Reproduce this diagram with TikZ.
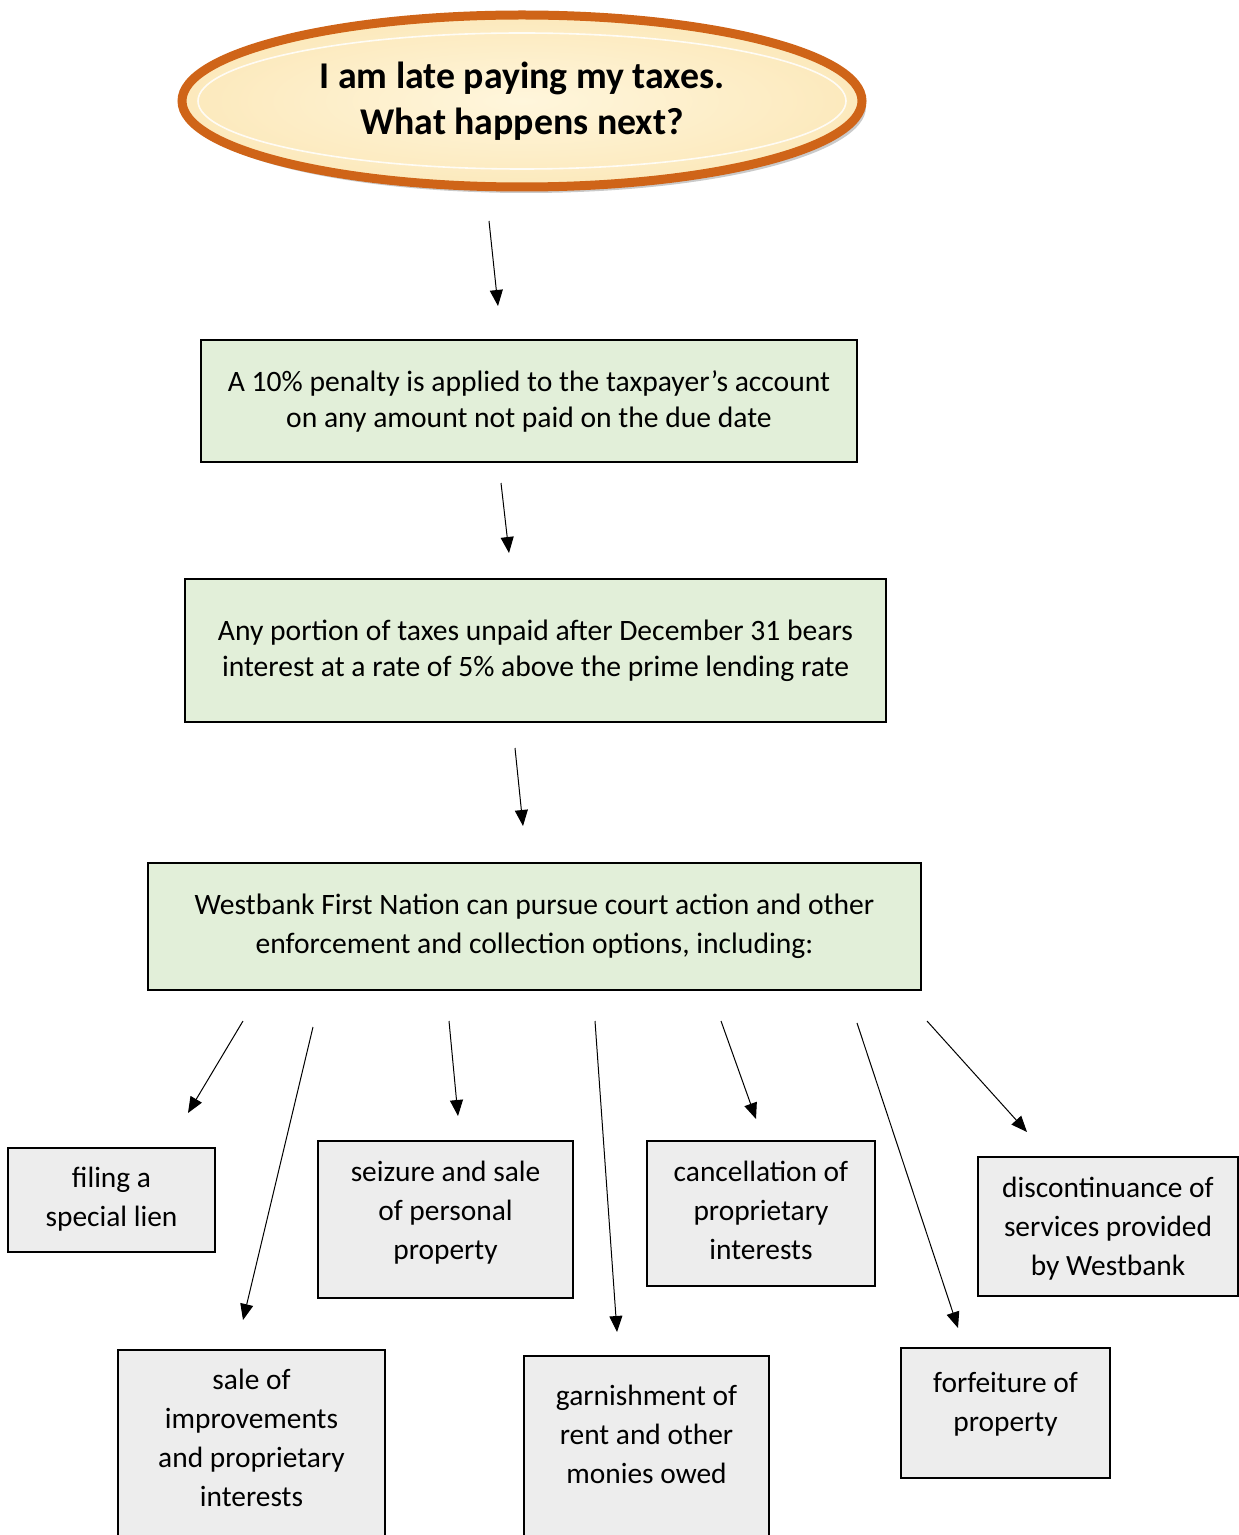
\documentclass[tikz,border=0pt]{standalone}
\usepackage{fontspec}
\setmainfont{Carlito}
\usetikzlibrary{shapes.geometric, arrows.meta, shadows, positioning}
\definecolor{boxgreen}{HTML}{E2EFD9}
\definecolor{boxgray}{HTML}{EDEDED}
\definecolor{ringorange}{HTML}{CF6418}
\definecolor{creamin}{HTML}{FFF6DC}
\definecolor{creamout}{HTML}{FCE9BC}
% box text: height, width, first baseline, lines
\newcommand{\boxtext}[4]{\parbox[c][#1][t]{#2}{\centering\rule{0pt}{#3}#4}}

\begin{document}
\begin{tikzpicture}
[
			x=0.5pt, y=-0.5pt,
			oval/.style = {ellipse, draw=ringorange, line width=4.5pt, inner color=creamin, outer color=creamout,
				minimum width=340pt, minimum height=86pt, align=center,
				font=\fontsize{18.9}{23}\selectfont\bfseries,
				drop shadow={shadow xshift=2pt, shadow yshift=-3pt, opacity=0.35, fill=black!60}},
			greenbox/.style = {draw, line width=1pt, fill=boxgreen, align=center, inner sep=0pt,
				font=\fontsize{14.8}{18}\selectfont},
			graybox/.style = {draw, line width=1pt, fill=boxgray, inner sep=0pt,
				font=\fontsize{14.7}{19.5}\selectfont},
			arr/.style = {-{Triangle[length=8pt, width=6.5pt]}, line width=0.5pt}
		]
\useasboundingbox (0,0) rectangle (1238,1535);

% question
\node[oval] (late) at (522,101) {I am late paying my taxes.\\What happens next?};
\draw[white, line width=0.8pt, opacity=0.85] (late.center) ellipse [x radius=162pt, y radius=34pt];

% steps
\node[greenbox, minimum width=328pt, minimum height=61pt] (penalty) at (529,401)
	{A 10\% penalty is applied to the taxpayer’s account\\on any amount not paid on the due date};
\node[greenbox, minimum width=350.5pt, minimum height=71.5pt] (interest) at (535.5,650.5)
	{Any portion of taxes unpaid after December 31 bears\\interest at a rate of 5\% above the prime lending rate};
\node[greenbox, minimum width=386.5pt, minimum height=63.5pt, font=\fontsize{14.8}{19.5}\selectfont] (court) at (534.5,926.5)
	{Westbank First Nation can pursue court action and other\\enforcement and collection options, including:};

% options
\node[graybox] (lien) at (111.5,1200) {\boxtext{52pt}{103.5pt}{19.5pt}{filing a\\special lien}};
\node[graybox] (seizure) at (445.5,1219.5) {\boxtext{78.5pt}{127.5pt}{20pt}{seizure and sale\\of personal\\property}};
\node[graybox] (cancel) at (761,1213.5) {\boxtext{72.5pt}{114pt}{20pt}{cancellation of\\proprietary\\interests}};
\node[graybox] (discont) at (1108,1226.5) {\boxtext{69.5pt}{130pt}{20pt}{discontinuance of\\services provided\\by Westbank}};
\node[graybox] (improve) at (251.5,1447.5) {\boxtext{97.5pt}{133.5pt}{19.5pt}{sale of\\improvements\\and proprietary\\interests}};
\node[graybox] (garnish) at (646.5,1450.5) {\boxtext{94.5pt}{122.5pt}{24.5pt}{garnishment of\\rent and other\\monies owed}};
\node[graybox] (forfeit) at (1005.5,1413) {\boxtext{65pt}{104.5pt}{22pt}{forfeiture of\\property}};

% arrow ends
\coordinate (late-out) at (489,221);     \coordinate (penalty-in) at (498,306);
\coordinate (penalty-out) at (501,483);  \coordinate (interest-in) at (509,553);
\coordinate (interest-out) at (515,748); \coordinate (court-in) at (523,826);
\coordinate (c1) at (243,1021); \coordinate (lien-in) at (188,1113);
\coordinate (c2) at (313,1027); \coordinate (improve-in) at (243,1320);
\coordinate (c3) at (449,1021); \coordinate (seizure-in) at (458,1116);
\coordinate (c4) at (595,1021); \coordinate (garnish-in) at (617,1332);
\coordinate (c5) at (721,1021); \coordinate (cancel-in) at (756,1119);
\coordinate (c6) at (857,1023); \coordinate (forfeit-in) at (958,1328);
\coordinate (c7) at (927,1021); \coordinate (discont-in) at (1027,1132);

\draw[arr] (late-out) -- (penalty-in);
\draw[arr] (penalty-out) -- (interest-in);
\draw[arr] (interest-out) -- (court-in);
\foreach \s/\t in {c1/lien-in, c2/improve-in, c3/seizure-in, c4/garnish-in, c5/cancel-in, c6/forfeit-in, c7/discont-in}
	\draw[arr] (\s) -- (\t);
\end{tikzpicture}
\end{document}
